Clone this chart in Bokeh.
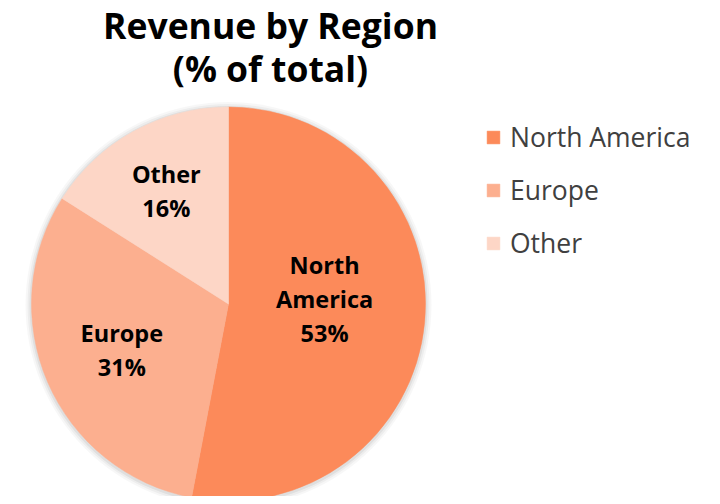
import math
from bokeh.plotting import figure
from bokeh.models import Range1d, ColumnDataSource, Legend, LegendItem
from bokeh.core.properties import value
from bokeh.embed import file_html
from bokeh.resources import INLINE

# ---- data ----
regions = ["North America", "Europe", "Other"]
shares = [53, 31, 16]
slice_labels = ["North\nAmerica\n53%", "Europe\n31%", "Other\n16%"]
title_lines = ["Revenue by Region", "(% of total)"]

# ---- style ----
colors = ["#FC8A5A", "#FCAF8F", "#FDD6C6"]
label_r_frac = [0.49, 0.59, 0.655]
label_dy = [14, 0, 0]
FONT = "Open Sans"

W, H = 712, 496
# data units == screen pixels of the photographed page (y measured upward from 504)
p = figure(width=W, height=H, output_backend="svg", toolbar_location=None,
           x_range=Range1d(0, W), y_range=Range1d(504 - H, 504),
           x_axis_type=None, y_axis_type=None, min_border=0)
p.outline_line_color = None
p.grid.visible = False
p.background_fill_color = "white"

cx, cy, R = 228, 504 - 303.5, 197
total = float(sum(shares))
starts, ends, lx, ly = [], [], [], []
acc = 0
for i, s in enumerate(shares):
    a0 = math.pi / 2 - 2 * math.pi * acc / total
    acc += s
    a1 = math.pi / 2 - 2 * math.pi * acc / total
    starts.append(a0)
    ends.append(a1)
    mid = (a0 + a1) / 2
    lx.append(cx + label_r_frac[i] * R * math.cos(mid))
    ly.append(cy + label_r_frac[i] * R * math.sin(mid) + label_dy[i])

# soft shadow
for k, a in [(6, 0.03), (4, 0.04), (2, 0.06)]:
    p.circle(x=[cx], y=[cy - 1], radius=R + k, fill_color="black", fill_alpha=a,
             line_color=None)

src = ColumnDataSource(dict(region=regions, share=shares, start=starts, end=ends,
                            color=colors, lx=lx, ly=ly, lab=slice_labels))
wr = p.wedge(x=cx, y=cy, radius=R, start_angle="start", end_angle="end",
             direction="clock", fill_color="color", line_color="color", line_width=0.5,
             source=src)

p.text(x="lx", y="ly", text="lab", source=src, text_font=value(FONT),
       text_font_style="bold", text_font_size="23.5px", text_color="black",
       text_align="center", text_baseline="middle", text_line_height=1.05)

# title
tsrc = ColumnDataSource(dict(x=[270, 270], y=[504 - 24, 504 - 67], t=title_lines))
p.text(x="x", y="y", text="t", source=tsrc, text_font=value(FONT),
       text_font_style="bold", text_font_size="35.5px", text_color="black",
       text_align="center", text_baseline="middle")

items = [LegendItem(label=regions[i], renderers=[wr], index=i) for i in range(len(regions))]
legend = Legend(items=items, location=(485, 227 + (H - 488)), orientation="vertical",
                glyph_width=16, glyph_height=16, label_height=36, spacing=17,
                label_standoff=9, padding=0, margin=0,
                label_text_font=FONT, label_text_font_size="26.5px",
                label_text_color="#404040", border_line_alpha=0,
                background_fill_alpha=0)
p.add_layout(legend)

open("out.html", "w").write(file_html(p, INLINE))
